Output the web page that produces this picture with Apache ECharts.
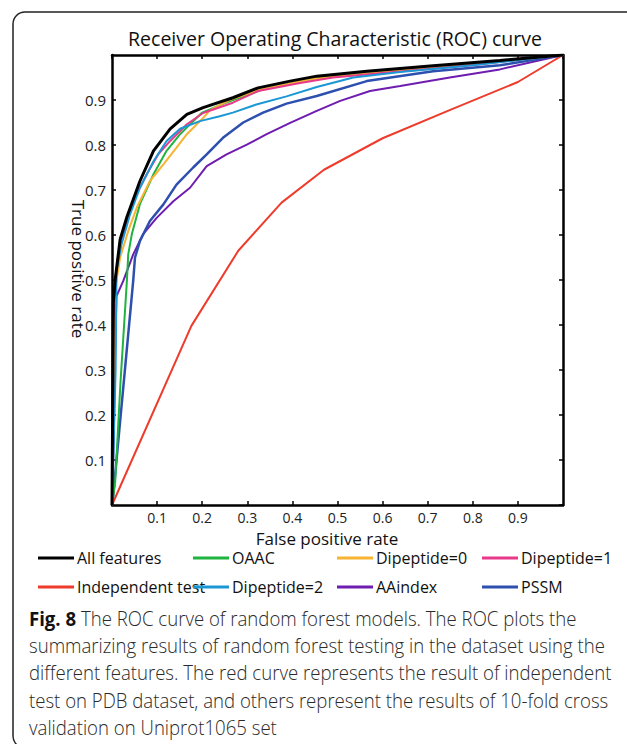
<!DOCTYPE html>
<html>
<head>
<meta charset="utf-8">
<script src="https://cdn.jsdelivr.net/npm/echarts@6/dist/echarts.min.js"></script>
<style>
html,body{margin:0;padding:0;background:#fff;}
#chart{width:627px;height:744px;}
</style>
</head>
<body>
<div id="chart"></div>
<script>
// ---- data (false positive rate, true positive rate) ----
var seriesNames = ['All features', 'OAAC', 'Dipeptide=0', 'Dipeptide=1',
                   'Independent test', 'Dipeptide=2', 'AAindex', 'PSSM'];
var allFeatures = [[0,0],[0.003,0.45],[0.007,0.5],[0.018,0.59],[0.033,0.64],[0.062,0.72],[0.092,0.787],[0.129,0.836],[0.166,0.868],[0.202,0.883],[0.268,0.905],[0.324,0.927],[0.395,0.942],[0.454,0.953],[0.565,0.964],[0.712,0.976],[0.86,0.988],[1,1]];
var oaac = [[0,0],[0.007,0.05],[0.019,0.276],[0.033,0.498],[0.036,0.557],[0.044,0.602],[0.062,0.669],[0.092,0.735],[0.121,0.787],[0.151,0.824],[0.18,0.853],[0.2,0.872],[0.25,0.893],[0.33,0.922],[0.45,0.948],[0.6,0.962],[0.8,0.979],[1,1]];
var dipeptide0 = [[0,0],[0.004,0.3],[0.007,0.48],[0.018,0.55],[0.036,0.609],[0.055,0.661],[0.084,0.72],[0.114,0.757],[0.143,0.794],[0.166,0.824],[0.202,0.86],[0.217,0.877],[0.26,0.9],[0.324,0.922],[0.45,0.948],[0.6,0.962],[0.8,0.979],[1,1]];
var dipeptide1 = [[0,0],[0.003,0.4],[0.007,0.5],[0.014,0.557],[0.029,0.616],[0.051,0.683],[0.077,0.735],[0.103,0.78],[0.129,0.809],[0.166,0.846],[0.202,0.871],[0.268,0.894],[0.324,0.92],[0.417,0.938],[0.49,0.95],[0.6,0.96],[0.8,0.978],[1,1]];
var independentTest = [[0,0],[0.176,0.398],[0.28,0.565],[0.376,0.672],[0.47,0.745],[0.6,0.815],[0.75,0.878],[0.9,0.94],[1,1]];
var dipeptide2 = [[0,0],[0.008,0.3],[0.01,0.52],[0.021,0.579],[0.04,0.646],[0.062,0.705],[0.092,0.764],[0.121,0.809],[0.151,0.836],[0.195,0.853],[0.239,0.864],[0.268,0.872],[0.32,0.89],[0.387,0.908],[0.454,0.929],[0.535,0.95],[0.639,0.962],[0.8,0.977],[1,1]];
var aaindex = [[0,0],[0.004,0.15],[0.006,0.3],[0.01,0.464],[0.025,0.498],[0.047,0.557],[0.069,0.602],[0.099,0.638],[0.136,0.675],[0.173,0.705],[0.21,0.753],[0.254,0.779],[0.299,0.801],[0.343,0.824],[0.395,0.849],[0.454,0.876],[0.506,0.898],[0.572,0.92],[0.639,0.931],[0.749,0.95],[0.86,0.968],[1,1]];
var pssm = [[0,0],[0.003,0.024],[0.047,0.498],[0.051,0.55],[0.062,0.587],[0.084,0.631],[0.114,0.668],[0.143,0.712],[0.18,0.75],[0.21,0.779],[0.246,0.816],[0.291,0.85],[0.335,0.872],[0.387,0.892],[0.454,0.909],[0.565,0.942],[0.712,0.964],[0.86,0.977],[1,1]];
var tickValues = [0.1,0.2,0.3,0.4,0.5,0.6,0.7,0.8,0.9];
var captionLines = [
  'The ROC curve of random forest models. The ROC plots the',
  'summarizing results of random forest testing in the dataset using the',
  'different features. The red curve represents the result of independent',
  'test on PDB dataset, and others represent the results of 10-fold cross',
  'validation on Uniprot1065 set'
];

var seriesData = [allFeatures, oaac, dipeptide0, dipeptide1, independentTest, dipeptide2, aaindex, pssm];
var colors = ['#000000', '#1fb33f', '#f8b332', '#e8398b', '#ee3b2b', '#1b97d5', '#6e1db0', '#2d4fae'];
var widths = [3, 2, 2, 2, 2, 2, 2, 2.5];
var drawOrder = [4, 6, 7, 1, 2, 3, 5, 0];

var FONT = '"Open Sans", "Noto Sans", sans-serif';
var chart = echarts.init(document.getElementById('chart'), null, {renderer: 'svg'});

function tickLabel(v) {
  var r = Math.round(v * 10) / 10;
  return tickValues.indexOf(r) >= 0 ? r.toFixed(1) : '';
}

var series = drawOrder.map(function (i) {
  return {
    name: seriesNames[i],
    type: 'line',
    data: seriesData[i],
    showSymbol: false,
    symbol: 'none',
    smooth: false,
    lineStyle: {color: colors[i], width: widths[i]},
    itemStyle: {color: colors[i]},
    z: 3,
    silent: true
  };
});

var legendCols = [38, 193, 337, 482];
var legendRows = [550, 579];
var legends = seriesNames.map(function (n, i) {
  return {
    data: [n],
    left: legendCols[i % 4],
    top: legendRows[Math.floor(i / 4)],
    icon: 'rect',
    itemWidth: 36,
    itemHeight: 3,
    itemGap: 0,
    selectedMode: false,
    padding: 0,
    textStyle: {fontFamily: FONT, fontSize: 16, color: '#111', padding: [0, 0, 0, -2]}
  };
});

var axisCommon = {
  type: 'value', min: 0, max: 1, interval: 0.1,
  splitLine: {show: false},
  axisLine: {show: true, onZero: false, lineStyle: {color: '#000', width: 2.5}},
  axisTick: {show: true, inside: true, length: 4, lineStyle: {color: '#000', width: 1.5}}
};

var captionGraphics = captionLines.map(function (t, i) {
  return {
    type: 'text', x: 29, y: 608 + i * 27.3, scaleX: 0.93,
    style: {
      text: i === 0 ? '{b|Fig. 8} ' + t : t,
      font: '300 20px ' + FONT,
      fill: '#2a2a2a',
      rich: {b: {fontWeight: 'bold', fontSize: 20, fontFamily: FONT, fill: '#111'}}
    }
  };
});

chart.setOption({
  animation: false,
  color: colors,
  grid: {left: 112, top: 55, width: 451, height: 450, containLabel: false, show: false},
  xAxis: [
    Object.assign({}, axisCommon, {
      position: 'bottom',
      axisLabel: {formatter: tickLabel, fontFamily: FONT, fontSize: 14, lineHeight: 15, color: '#222', margin: 5, showMinLabel: false, showMaxLabel: false}
    }),
    Object.assign({}, axisCommon, {position: 'top', axisLabel: {show: false}})
  ],
  yAxis: [
    Object.assign({}, axisCommon, {
      position: 'left',
      axisLabel: {formatter: tickLabel, fontFamily: FONT, fontSize: 15, color: '#222', margin: 6, showMinLabel: false, showMaxLabel: false}
    }),
    Object.assign({}, axisCommon, {position: 'right', axisLabel: {show: false}})
  ],
  legend: legends,
  series: series,
  graphic: [
    {type: 'rect', shape: {x: 13, y: 12, width: 700, height: 736, r: 12}, style: {fill: 'none', stroke: '#222', lineWidth: 1.5}, z: 0, silent: true},
    {type: 'text', x: 335, y: 38, style: {text: 'Receiver Operating Characteristic (ROC) curve', font: '19.5px ' + FONT, fill: '#111', textAlign: 'center', textVerticalAlign: 'middle'}},
    {type: 'text', x: 327, y: 538, style: {text: 'False positive rate', font: '17px ' + FONT, lineHeight: 18, fill: '#111', textAlign: 'center', textVerticalAlign: 'middle'}},
    {type: 'text', x: 78, y: 269, rotation: -Math.PI / 2, style: {text: 'True positive rate', font: '17px ' + FONT, fill: '#111', textAlign: 'center', textVerticalAlign: 'middle'}}
  ].concat(captionGraphics)
});
</script>
</body>
</html>
